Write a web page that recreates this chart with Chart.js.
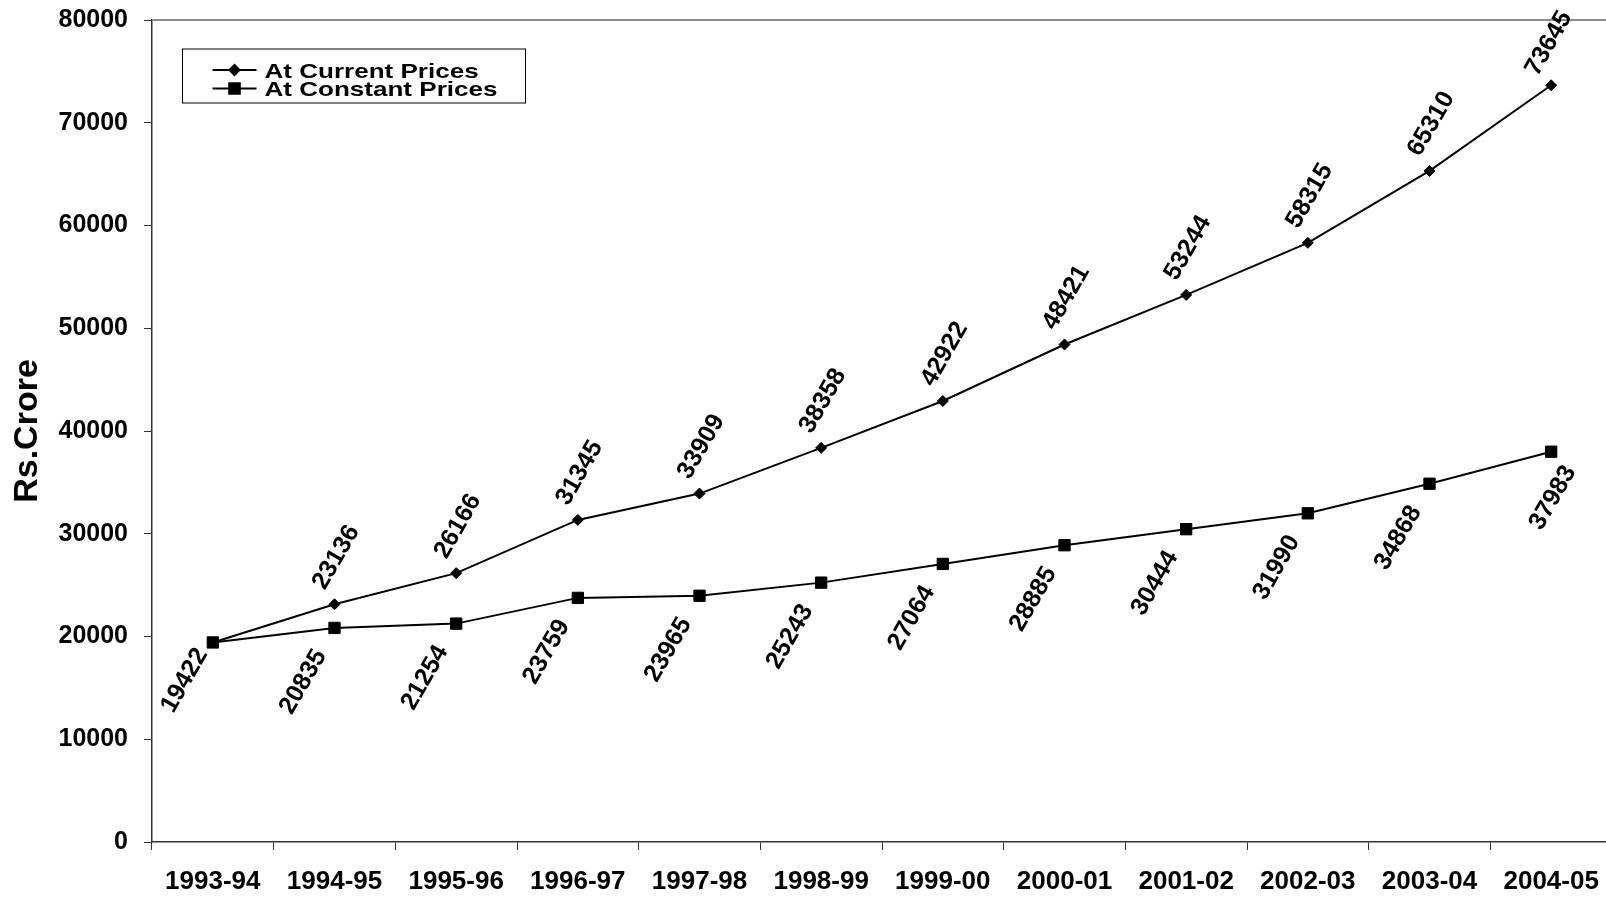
<!DOCTYPE html>
<html>
<head>
<meta charset="utf-8">
<script src="https://cdn.jsdelivr.net/npm/chart.js@4.4.1/dist/chart.umd.min.js"></script>
<style>
  html, body { margin: 0; padding: 0; background: #fff; overflow: hidden; }
  canvas { display: block; }
</style>
</head>
<body>
<canvas id="gdp" width="1621" height="898" style="width:1621px;height:898px"></canvas>
<script>
// Financial years on the category axis
const years = ['1993-94', '1994-95', '1995-96', '1996-97', '1997-98', '1998-99',
               '1999-00', '2000-01', '2001-02', '2002-03', '2003-04', '2004-05'];

// Rs. crore, at current prices
const currentPrices = [19422, 23136, 26166, 31345, 33909, 38358,
                       42922, 48421, 53244, 58315, 65310, 73645];

// Rs. crore, at constant prices
const constantPrices = [19422, 20835, 21254, 23759, 23965, 25243,
                        27064, 28885, 30444, 31990, 34868, 37983];

// Value axis tick labels (0 to 80000, step 10000)
const yTickLabels = ['0', '10000', '20000', '30000', '40000',
                     '50000', '60000', '70000', '80000'];

const FONT = "'Liberation Sans', Arial, Helvetica, sans-serif";

// Light frame line along the top of the plot area, under the data
const topFrame = {
  id: 'topFrame',
  beforeDatasetsDraw(chart) {
    const ctx = chart.ctx;
    const area = chart.chartArea;
    ctx.save();
    ctx.strokeStyle = '#8c8c8c';
    ctx.lineWidth = 2;
    ctx.beginPath();
    ctx.moveTo(area.left, area.top);
    ctx.lineTo(area.right, area.top);
    ctx.stroke();
    ctx.restore();
  }
};

// Rotated value labels next to each marker
const valueLabels = {
  id: 'valueLabels',
  afterDatasetsDraw(chart) {
    const ctx = chart.ctx;
    const size = 25;
    ctx.save();
    ctx.font = 'bold ' + size + 'px ' + FONT;
    ctx.fillStyle = '#000';
    ctx.textAlign = 'center';
    ctx.textBaseline = 'alphabetic';
    chart.data.datasets.forEach((ds, di) => {
      const meta = chart.getDatasetMeta(di);
      const opt = ds.labelPlacement;
      meta.data.forEach((pt, i) => {
        if (opt.skip && opt.skip.includes(i)) return;
        let dx = opt.dx, dy = opt.dy;
        const nudge = opt.nudge && opt.nudge[i];
        if (nudge) { dx += nudge[0]; dy += nudge[1]; }
        ctx.save();
        ctx.translate(pt.x + dx, pt.y + dy);
        ctx.rotate(-Math.PI / 3);
        ctx.fillText(String(ds.data[i]), 0, size * 0.358);
        ctx.restore();
      });
    });
    ctx.restore();
  }
};

// Boxed legend inside the plot area
const boxedLegend = {
  id: 'boxedLegend',
  afterDraw(chart) {
    const ctx = chart.ctx;
    const area = chart.chartArea;
    ctx.save();
    const bx = area.left + 30.5, by = area.top + 29, bw = 343, bh = 54;
    ctx.strokeStyle = '#000';
    ctx.lineWidth = 1;
    ctx.strokeRect(bx, by, bw, bh);

    const rows = [by + 21, by + 39.5];
    chart.data.datasets.forEach((ds, di) => {
      const y = rows[di];
      ctx.strokeStyle = '#000';
      ctx.lineWidth = 2;
      ctx.beginPath();
      ctx.moveTo(bx + 30, y);
      ctx.lineTo(bx + 74, y);
      ctx.stroke();
      Chart.helpers.drawPoint(ctx, {
        pointStyle: ds.pointStyle,
        radius: ds.pointStyle === 'rect' ? 7.5 : 5,
        borderWidth: 1
      }, bx + 52, y);
      ctx.fillStyle = '#000';
      ctx.fill();
      ctx.save();
      ctx.font = 'bold 21px ' + FONT;
      ctx.textBaseline = 'alphabetic';
      ctx.translate(bx + 82, y + 7.5);
      ctx.scale(1.24, 1);
      ctx.fillText(ds.label, 0, 0);
      ctx.restore();
    });
    ctx.restore();
  }
};

new Chart(document.getElementById('gdp'), {
  type: 'line',
  data: {
    labels: years,
    datasets: [
      {
        label: 'At Current Prices',
        data: currentPrices,
        borderColor: '#000',
        borderWidth: 2,
        backgroundColor: '#000',
        pointStyle: 'rectRot',
        pointRadius: 5.5,
        pointBorderWidth: 1,
        pointBackgroundColor: '#000',
        pointBorderColor: '#000',
        tension: 0,
        labelPlacement: { dx: 0, dy: -48, skip: [0], nudge: { 11: [-4, 5] } }
      },
      {
        label: 'At Constant Prices',
        data: constantPrices,
        borderColor: '#000',
        borderWidth: 2,
        backgroundColor: '#000',
        pointStyle: 'rect',
        pointRadius: 8,
        pointBorderWidth: 1,
        pointBackgroundColor: '#000',
        pointBorderColor: '#000',
        tension: 0,
        labelPlacement: { dx: -33, dy: 53, nudge: { 0: [3, -16], 11: [33, -8] } }
      }
    ]
  },
  options: {
    responsive: false,
    animation: false,
    devicePixelRatio: 1,
    layout: { padding: { top: 20, left: 0, right: 0, bottom: 0 } },
    plugins: {
      legend: { display: false },
      tooltip: { enabled: false }
    },
    scales: {
      x: {
        type: 'category',
        offset: true,
        grid: {
          offset: true,
          drawOnChartArea: false,
          drawTicks: true,
          tickLength: 8,
          color: '#333',
          lineWidth: 1
        },
        border: { display: true, color: '#333', width: 1.5 },
        ticks: {
          color: '#000',
          font: { family: FONT, size: 26, weight: 'bold' },
          padding: 16,
          maxRotation: 0,
          autoSkip: false
        },
        afterFit(scale) {
          scale.height = 56;
          scale.paddingLeft = 0;
          scale.paddingRight = 0;
        }
      },
      y: {
        min: 0,
        max: 80000,
        grid: {
          drawOnChartArea: false,
          drawTicks: true,
          tickLength: 8,
          color: '#333',
          lineWidth: 1
        },
        border: { display: true, color: '#333', width: 1.5 },
        ticks: {
          stepSize: 10000,
          color: '#000',
          font: { family: FONT, size: 25, weight: 'bold' },
          padding: 16,
          callback: (v, i) => yTickLabels[i]
        },
        title: {
          display: true,
          text: 'Rs.Crore',
          color: '#000',
          font: { family: FONT, size: 34, weight: 'bold' },
          padding: { top: 7, bottom: 0 }
        },
        afterFit(scale) {
          scale.width = 152;
          scale.paddingTop = 0;
          scale.paddingBottom = 0;
        }
      }
    }
  },
  plugins: [topFrame, valueLabels, boxedLegend]
});
</script>
</body>
</html>
